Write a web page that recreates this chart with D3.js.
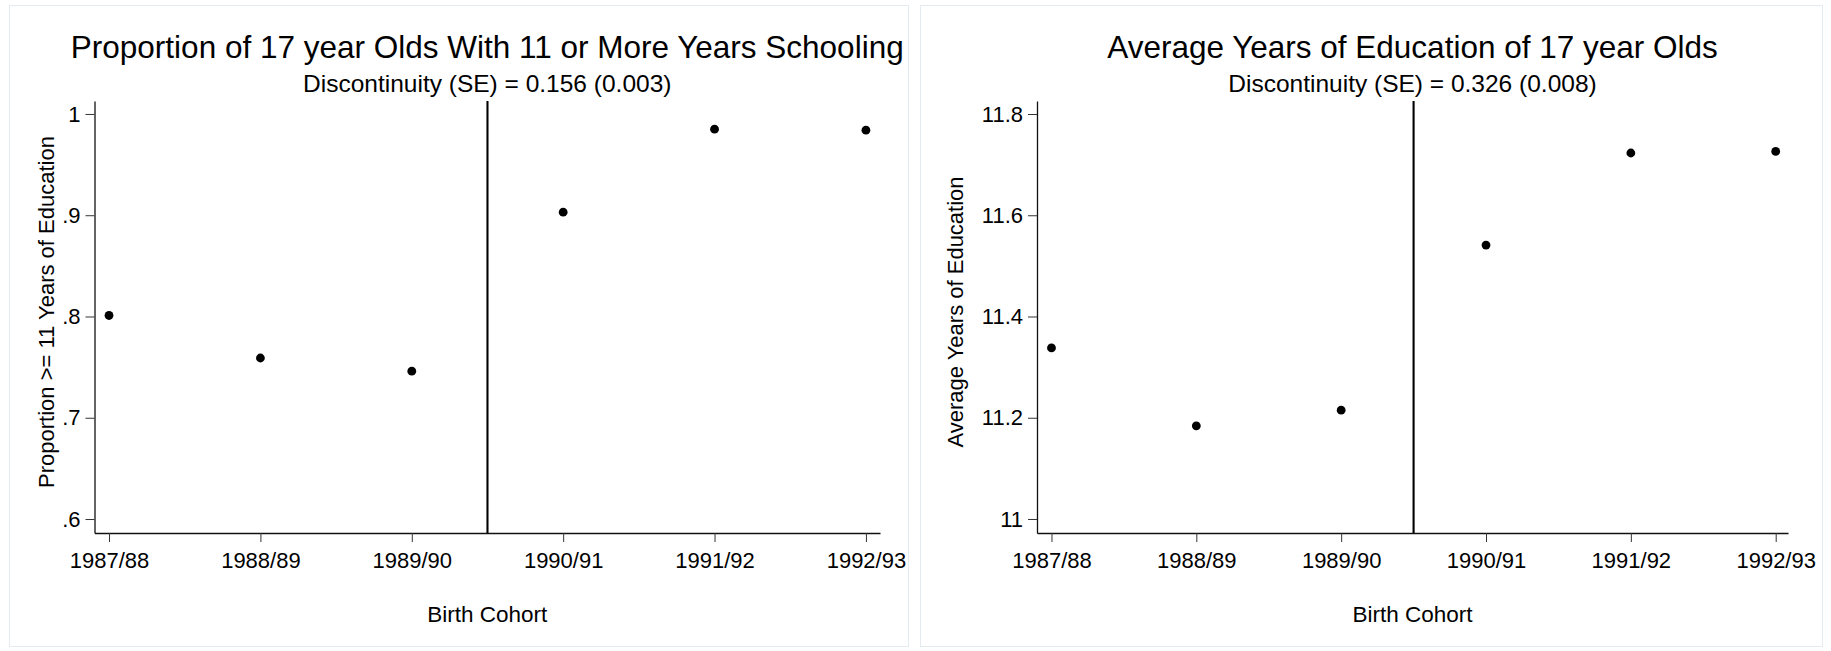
<!DOCTYPE html>
<html>
<head>
<meta charset="utf-8">
<script src="https://cdn.jsdelivr.net/npm/d3@7/dist/d3.min.js"></script>
<style>
  html, body { margin: 0; padding: 0; background: #ffffff; }
  svg { display: block; }
  text { font-family: "Liberation Sans", Arial, sans-serif; fill: #000; }
</style>
</head>
<body>
<svg id="chart" width="1831" height="651"></svg>
<script>
// ---------- data ----------
const cohorts = ["1987/88", "1988/89", "1989/90", "1990/91", "1991/92", "1992/93"];
const propValues = [0.801, 0.759, 0.746, 0.903, 0.985, 0.984];
const eduValues = [11.338, 11.184, 11.215, 11.541, 11.723, 11.726];
const propTicks = [0.6, 0.7, 0.8, 0.9, 1.0];
const propTickLabels = [".6", ".7", ".8", ".9", "1"];
const eduTicks = [11.0, 11.2, 11.4, 11.6, 11.8];
const eduTickLabels = ["11", "11.2", "11.4", "11.6", "11.8"];
const cutoff = 2.5; // between 1989/90 and 1990/91
const titles = ["Proportion of 17 year Olds With 11 or More Years Schooling",
                "Average Years of Education of 17 year Olds"];
const subtitles = ["Discontinuity (SE) = 0.156 (0.003)",
                   "Discontinuity (SE) = 0.326 (0.008)"];
const yTitles = ["Proportion >= 11 Years of Education", "Average Years of Education"];
const xTitle = "Birth Cohort";

// ---------- layout ----------
const svg = d3.select("#chart");
const FONT = '"Liberation Sans", Arial, sans-serif';
const panels = [
  { frame: [9.5, 5.5, 899, 641], xr: [94.5, 880], xd: [-0.096, 5.093],
    yd: [0.5862, 1.0128], yr: [533, 101], ticks: propTicks, labels: propTickLabels,
    values: propValues, yTitleX: 46 },
  { frame: [920.5, 5.5, 902, 641], xr: [1037, 1788], xd: [-0.1, 5.085],
    yd: [10.9723, 11.8257], yr: [533, 101], ticks: eduTicks, labels: eduTickLabels,
    values: eduValues, yTitleX: 955 }
];

panels.forEach((p, i) => {
  const g = svg.append("g");
  g.append("rect")
    .attr("x", p.frame[0]).attr("y", p.frame[1])
    .attr("width", p.frame[2]).attr("height", p.frame[3])
    .attr("fill", "#ffffff").attr("stroke", "#e3ebee").attr("stroke-width", 1);

  const x = d3.scaleLinear().domain(p.xd).range(p.xr);
  const y = d3.scaleLinear().domain(p.yd).range(p.yr);
  const cx = (p.xr[0] + p.xr[1]) / 2;

  // titles
  g.append("text").attr("x", cx).attr("y", 57.5).attr("text-anchor", "middle")
    .style("font-size", "31.5px").text(titles[i]);
  g.append("text").attr("x", cx).attr("y", 91.5).attr("text-anchor", "middle")
    .style("font-size", "24.5px").text(subtitles[i]);

  // x axis
  const xAxis = d3.axisBottom(x)
    .tickValues(d3.range(cohorts.length))
    .tickFormat(d => cohorts[d])
    .tickSize(9).tickSizeOuter(0).tickPadding(10);
  const gx = g.append("g").attr("transform", `translate(0,${p.yr[0]})`).call(xAxis);
  gx.selectAll("text").style("font-size", "22px").style("font-family", FONT).attr("fill", "#000");
  gx.selectAll("line").attr("stroke", "#333").attr("stroke-width", 1);
  gx.select(".domain").attr("stroke", "#111").attr("stroke-width", 1.3);

  // y axis
  const yAxis = d3.axisLeft(y)
    .tickValues(p.ticks)
    .tickFormat((d, k) => p.labels[k])
    .tickSize(9).tickSizeOuter(0).tickPadding(5);
  const gy = g.append("g").attr("transform", `translate(${p.xr[0]},0)`).call(yAxis);
  gy.selectAll("text").style("font-size", "22px").style("font-family", FONT).attr("fill", "#000");
  gy.selectAll("line").attr("stroke", "#333").attr("stroke-width", 1);
  gy.select(".domain").attr("stroke", "#111").attr("stroke-width", 1.3);

  // axis titles
  g.append("text").attr("x", cx).attr("y", 622).attr("text-anchor", "middle")
    .style("font-size", "22.5px").text(xTitle);
  g.append("text")
    .attr("transform", `translate(${p.yTitleX},312) rotate(-90)`)
    .attr("text-anchor", "middle").attr("dy", "0.36em")
    .style("font-size", "22px").text(yTitles[i]);

  // cutoff line
  g.append("line")
    .attr("x1", x(cutoff)).attr("x2", x(cutoff))
    .attr("y1", p.yr[0]).attr("y2", p.yr[1])
    .attr("stroke", "#000").attr("stroke-width", 2.1);

  // points
  g.selectAll("circle.pt").data(p.values).enter().append("circle")
    .attr("class", "pt")
    .attr("cx", (d, k) => x(k)).attr("cy", d => y(d))
    .attr("r", 4.4).attr("fill", "#000");
});
</script>
</body>
</html>
